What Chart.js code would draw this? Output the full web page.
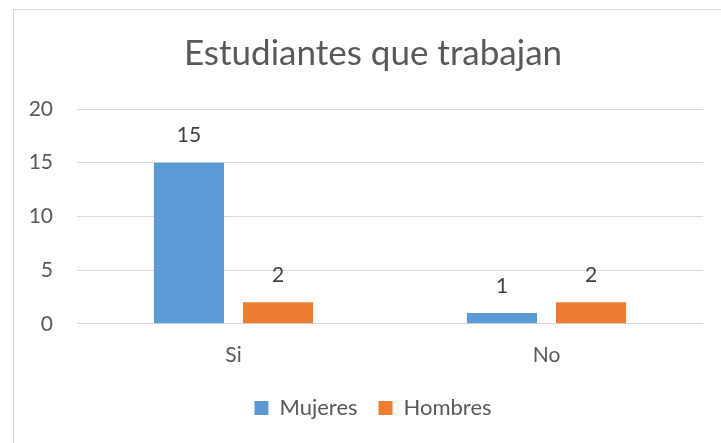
<!DOCTYPE html>
<html>
<head>
<meta charset="utf-8">
<script src="https://cdn.jsdelivr.net/npm/chart.js@4/dist/chart.umd.min.js"></script>
<style>
  html, body { margin: 0; padding: 0; background: #fff; overflow: hidden; }
  #box { position: absolute; left: 13px; top: 9px; width: 718px; height: 440px; border: 1px solid #d9d9d9; background: #fff; }
  canvas { display: block; }
</style>
</head>
<body>
<div id="box"><canvas id="c" width="718" height="440"></canvas></div>
<script>
const title = "Estudiantes que trabajan";
const categories = ["Si", "No"];
const mujeres = [15, 1];
const hombres = [2, 2];
const yTicks = [0, 5, 10, 15, 20];

const textColor = "#595959";
const fontFamily = "Lato, 'Open Sans', sans-serif";

const dataLabels = {
  id: "dataLabels",
  afterDatasetsDraw(chart) {
    const ctx = chart.ctx;
    ctx.save();
    ctx.font = "21px " + fontFamily;
    ctx.fillStyle = "#404040";
    ctx.textAlign = "center";
    ctx.textBaseline = "middle";
    chart.data.datasets.forEach((ds, i) => {
      chart.getDatasetMeta(i).data.forEach((bar, j) => {
        ctx.fillText(String(ds.data[j]), bar.x, bar.y - 27);
      });
    });
    ctx.restore();
  }
};

new Chart(document.getElementById("c"), {
  type: "bar",
  data: {
    labels: categories,
    datasets: [
      { label: "Mujeres", data: mujeres, backgroundColor: "#5B9BD5", categoryPercentage: 0.569, barPercentage: 0.787 },
      { label: "Hombres", data: hombres, backgroundColor: "#ED7D31", categoryPercentage: 0.569, barPercentage: 0.787 }
    ]
  },
  options: {
    responsive: false,
    animation: false,
    devicePixelRatio: 1,
    layout: { padding: { left: 0, right: 0, top: 0, bottom: 21 } },
    plugins: {
      title: {
        display: true,
        text: title,
        color: textColor,
        font: { family: fontFamily, size: 35, weight: "normal" },
        padding: { top: 23, bottom: 34 }
      },
      legend: {
        position: "bottom",
        labels: {
          color: textColor,
          font: { family: fontFamily, size: 22 },
          boxWidth: 14,
          boxHeight: 14,
          padding: 21
        }
      },
      tooltip: { enabled: false }
    },
    scales: {
      x: {
        afterFit(scale) { scale.height -= 3; },
        grid: { display: false },
        border: { display: false },
        ticks: { color: textColor, font: { family: fontFamily, size: 21 }, padding: 11 }
      },
      y: {
        min: 0,
        max: 20,
        afterBuildTicks(scale) { scale.ticks = yTicks.map(v => ({ value: v })); },
        afterFit(scale) { scale.width = 63; },
        grid: { color: "#d9d9d9", lineWidth: 1, drawTicks: false },
        border: { display: false },
        ticks: { color: textColor, font: { family: fontFamily, size: 21 }, padding: 24 }
      },
      yRight: {
        position: "right",
        afterFit(scale) { scale.width = 29; },
        grid: { display: false },
        border: { display: false },
        ticks: { display: false }
      }
    }
  },
  plugins: [dataLabels]
});
</script>
</body>
</html>
